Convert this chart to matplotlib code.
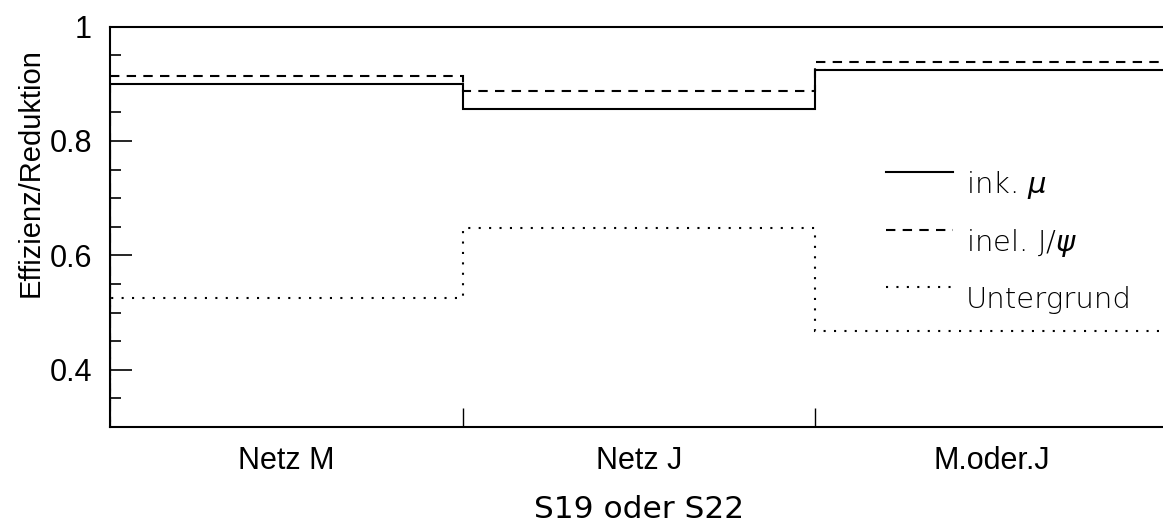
import numpy as np
import matplotlib
matplotlib.use("Agg")
import matplotlib.pyplot as plt
from matplotlib.ticker import MultipleLocator, FormatStrFormatter

# data
kategorien = ["Netz M", "Netz J", "M.oder.J"]
ink_mu = [0.900, 0.855, 0.924]
inel_jpsi = [0.913, 0.887, 0.938]
untergrund = [0.525, 0.647, 0.467]
legende = [r'ink. $\mu$', r'inel. J/$\psi$', 'Untergrund']

plt.rcParams['mathtext.fontset'] = 'dejavusans'

W, H = 1163, 525
fig = plt.figure(figsize=(W/100, H/100), dpi=100)
ax = fig.add_axes([110/W, 98/H, 1058/W, 400.5/H])

def ax_x(px):
    return (px - 110) / 1058

def ax_y(py):
    return 1 - (py - 26.5) / 400.5

kanten = np.arange(len(kategorien) + 1)
lw = 1.5
stile = ['-', (0, (4.5, 3.5)), (0, (1, 4))]
for werte, st in zip([ink_mu, inel_jpsi, untergrund], stile):
    ax.stairs(werte, kanten, color='black', lw=lw, linestyle=st)

ax.set_xlim(0, 3)
ax.set_ylim(0.3, 1.0)

# y ticks
ax.yaxis.set_major_locator(MultipleLocator(0.2))
ax.yaxis.set_minor_locator(MultipleLocator(0.05))
ax.yaxis.set_major_formatter(FormatStrFormatter('%g'))
ax.tick_params(axis='y', which='major', direction='in', length=16, width=1.2,
               labelsize=22, pad=13, right=False)
ax.tick_params(axis='y', which='minor', direction='in', length=8, width=1.2,
               right=False)
for t in ax.get_yticklabels():
    t.set_fontfamily('Liberation Sans')

# x ticks: marks at the boundaries, labels in the middle
ax.set_xticks([1, 2])
ax.set_xticklabels([])
ax.tick_params(axis='x', which='major', direction='in', length=14, width=1.0,
               top=False)
ax.set_xticks(np.arange(len(kategorien)) + 0.5, minor=True)
ax.set_xticklabels(kategorien, minor=True, fontsize=22, family='Liberation Sans')
ax.tick_params(axis='x', which='minor', length=0, pad=14)

ax.set_ylabel('Effizienz/Reduktion', fontsize=21, family='Liberation Sans')
ax.yaxis.set_label_coords(ax_x(45), ax_y(172.5))
ax.set_xlabel('S19 oder S22', fontsize=22.5, family='DejaVu Sans', labelpad=13)

for s in ['left', 'bottom', 'top']:
    ax.spines[s].set_linewidth(1.5)
ax.spines['right'].set_visible(False)

# legend drawn by hand
zeilen_y = [172, 230, 287]
for text, st, py in zip(legende, stile, zeilen_y):
    ax.plot([ax_x(886), ax_x(953)], [ax_y(py), ax_y(py)], transform=ax.transAxes,
            color='black', lw=lw, linestyle=st, clip_on=False)
    ax.text(ax_x(966), ax_y(py + 21), text, transform=ax.transAxes,
            fontsize=21, fontweight='light', family='DejaVu Sans',
            va='baseline', ha='left')

fig.savefig('out.png', dpi=100)
